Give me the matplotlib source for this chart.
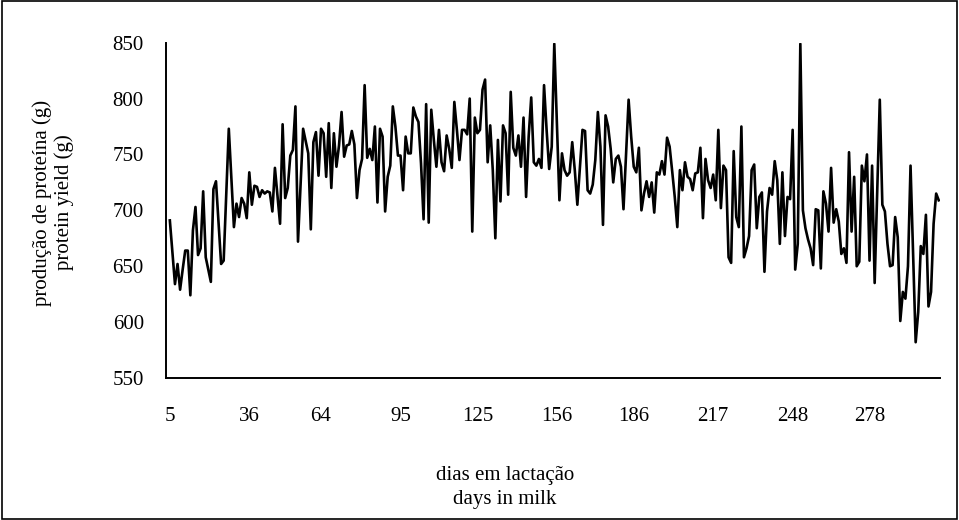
import numpy as np
import matplotlib
matplotlib.use('Agg')
import matplotlib.pyplot as plt
from matplotlib.patches import Rectangle

# days in milk 5..305, protein yield (g)
days = list(range(5, 306))
protein = [
    691, 662, 634, 652, 629, 647, 664, 664, 624, 682,
    703, 660, 666, 717, 658, 647, 636, 719, 726, 689,
    652, 655, 714, 773, 729, 685, 706, 694, 711, 706,
    693, 734, 705, 722, 721, 712, 718, 715, 717, 716,
    699, 738, 713, 688, 777, 711, 720, 749, 754, 793,
    672, 722, 773, 762, 751, 683, 761, 770, 731, 773,
    769, 730, 778, 720, 769, 739, 758, 788, 748, 758,
    759, 771, 759, 711, 736, 746, 812, 747, 755, 745,
    775, 707, 773, 766, 699, 730, 740, 793, 775, 749,
    749, 718, 766, 751, 751, 792, 784, 779, 742, 692,
    795, 689, 790, 763, 739, 772, 743, 735, 767, 755,
    738, 797, 772, 745, 772, 772, 768, 800, 681, 783,
    769, 772, 808, 817, 743, 776, 736, 675, 763, 708,
    776, 769, 714, 806, 756, 749, 767, 739, 783, 712,
    766, 801, 743, 740, 746, 738, 812, 772, 737, 757,
    849, 780, 709, 751, 736, 731, 734, 761, 736, 705,
    739, 772, 771, 718, 715, 723, 745, 788, 757, 687,
    785, 775, 755, 725, 746, 749, 739, 701, 751, 799,
    766, 739, 734, 756, 700, 715, 726, 712, 725, 698,
    734, 732, 744, 732, 765, 757, 735, 712, 685, 736,
    718, 743, 730, 728, 718, 733, 734, 756, 693, 746,
    727, 720, 732, 709, 772, 702, 740, 736, 658, 653,
    753, 694, 685, 775, 658, 666, 677, 736, 741, 684,
    712, 716, 645, 699, 720, 714, 744, 727, 670, 734,
    677, 712, 710, 772, 647, 670, 849, 700, 684, 674,
    666, 651, 701, 700, 648, 717, 706, 681, 738, 689,
    701, 690, 661, 666, 653, 752, 681, 730, 650, 654,
    740, 726, 750, 655, 740, 635, 717, 799, 705, 699,
    670, 650, 651, 694, 676, 601, 627, 621, 650, 740,
    660, 582, 609, 668, 661, 696, 614, 627, 688, 715,
    709,
]

x_ticks = [5, 36, 64, 95, 125, 156, 186, 217, 248, 278]
y_ticks = [550, 600, 650, 700, 750, 800, 850]

plt.rcParams['font.family'] = ['Liberation Serif', 'DejaVu Serif']

fig = plt.figure(figsize=(9.59, 5.2), dpi=100)
ax = fig.add_axes([0.1731, 0.2731, 0.8071, 0.6448])

ax.plot(days, protein, color='black', lw=1.9)

ax.set_xlim(3.5, 305.5)
ax.set_ylim(550, 850)
ax.set_xticks(x_ticks)
ax.set_xticklabels([str(t) for t in x_ticks])
ax.set_yticks(y_ticks)
ax.tick_params(axis='both', length=0, labelsize=15)
ax.tick_params(axis='x', pad=21)
ax.tick_params(axis='y', pad=16)

for s in ['top', 'right']:
    ax.spines[s].set_visible(False)
for s in ['left', 'bottom']:
    ax.spines[s].set_linewidth(1.4)
    ax.spines[s].set_color('black')

# axis titles (placed like the Excel titles)
fig.text(0.0556, 0.6106, 'produção de proteína (g)\nprotein yield (g)', rotation=90,
         ha='center', va='center', fontsize=15, linespacing=1.15)
fig.text(0.5266, 0.0625, 'dias em lactação\ndays in milk', ha='center',
         va='center', fontsize=15, linespacing=1.3)

# chart border
fig.patches.append(Rectangle((0.002, 0.002), 0.996, 0.996, transform=fig.transFigure,
                             fill=False, edgecolor='black', lw=1.2))

fig.savefig('out.png', dpi=100)
